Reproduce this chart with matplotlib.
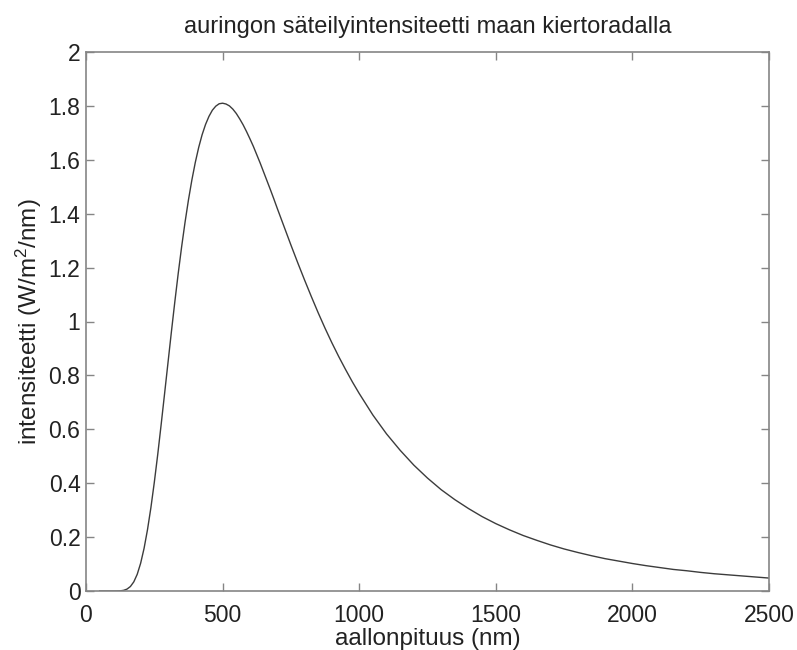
import matplotlib
matplotlib.use("Agg")
import matplotlib.pyplot as plt

# wavelength (nm)
wavelength = [50, 75, 100, 112.5, 125, 137.5, 150, 162.5, 175, 187.5, 200, 212.5,
              225, 237.5, 250, 262.5, 275, 287.5, 300, 312.5, 325, 337.5, 350,
              362.5, 375, 387.5, 400, 412.5, 425, 437.5, 450, 462.5, 475, 487.5,
              500, 512.5, 525, 537.5, 550, 562.5, 575, 587.5, 600, 612.5, 625,
              637.5, 650, 662.5, 675, 687.5, 700, 725, 750, 775, 800, 825, 850,
              875, 900, 925, 950, 975, 1000, 1050, 1100, 1150, 1200, 1250, 1300,
              1350, 1400, 1450, 1500, 1550, 1600, 1650, 1700, 1750, 1800, 1850,
              1900, 1950, 2000, 2050, 2100, 2150, 2200, 2250, 2300, 2350, 2400,
              2450, 2500]

# spectral irradiance (W/m^2/nm)
intensity = [0.0, 0.0, 0.0, 0.0001, 0.0006, 0.0024, 0.007, 0.0166, 0.034, 0.062,
             0.103, 0.158, 0.227, 0.309, 0.403, 0.506, 0.617, 0.731, 0.846, 0.961,
             1.072, 1.178, 1.277, 1.368, 1.451, 1.525, 1.590, 1.646, 1.693, 1.731,
             1.761, 1.784, 1.799, 1.808, 1.810, 1.807, 1.800, 1.788, 1.772, 1.752,
             1.730, 1.705, 1.678, 1.650, 1.619, 1.588, 1.555, 1.522, 1.489, 1.455,
             1.420, 1.352, 1.284, 1.218, 1.154, 1.092, 1.032, 0.975, 0.921, 0.870,
             0.822, 0.776, 0.733, 0.653, 0.583, 0.522, 0.467, 0.419, 0.376, 0.339,
             0.306, 0.276, 0.250, 0.227, 0.206, 0.188, 0.171, 0.156, 0.143, 0.131,
             0.120, 0.111, 0.102, 0.094, 0.087, 0.080, 0.075, 0.069, 0.064, 0.060,
             0.056, 0.052, 0.048]

x_ticks = [0, 500, 1000, 1500, 2000, 2500]
y_ticks = [0, 0.2, 0.4, 0.6, 0.8, 1, 1.2, 1.4, 1.6, 1.8, 2]
y_tick_labels = ["0", "0.2", "0.4", "0.6", "0.8", "1", "1.2", "1.4", "1.6", "1.8", "2"]

plt.rcParams["font.family"] = ["Liberation Sans", "DejaVu Sans"]
plt.rcParams["mathtext.fontset"] = "custom"
plt.rcParams["mathtext.rm"] = "Liberation Sans"
plt.rcParams["mathtext.it"] = "Liberation Sans"

fig = plt.figure(figsize=(7.97, 6.5), dpi=100)
ax = fig.add_axes([86 / 797, 1 - 591 / 650, 683 / 797, 539 / 650])

ax.plot(wavelength, intensity, color="#3c3c3c", linewidth=1.0)

ax.set_xlim(0, 2500)
ax.set_ylim(0, 2)
ax.set_xticks(x_ticks)
ax.set_xticklabels([str(t) for t in x_ticks])
ax.set_yticks(y_ticks)
ax.set_yticklabels(y_tick_labels)

for s in ax.spines.values():
    s.set_color("#858585")
    s.set_linewidth(1.2)

ax.tick_params(direction="in", length=6, width=1.0, color="#858585",
               labelsize=16.5, labelcolor="#222222", top=True, right=True)
ax.tick_params(axis="x", pad=9)
ax.tick_params(axis="y", pad=4)

ax.set_title("auringon säteilyintensiteetti maan kiertoradalla",
             fontsize=17, color="#222222", pad=13.5)
ax.set_xlabel("aallonpituus (nm)", fontsize=17.5, color="#222222", labelpad=1)
ax.set_ylabel("intensiteetti (W/m$^2$/nm)", fontsize=17.5, color="#222222", labelpad=3)

fig.savefig("out.png", dpi=100, facecolor="white")
